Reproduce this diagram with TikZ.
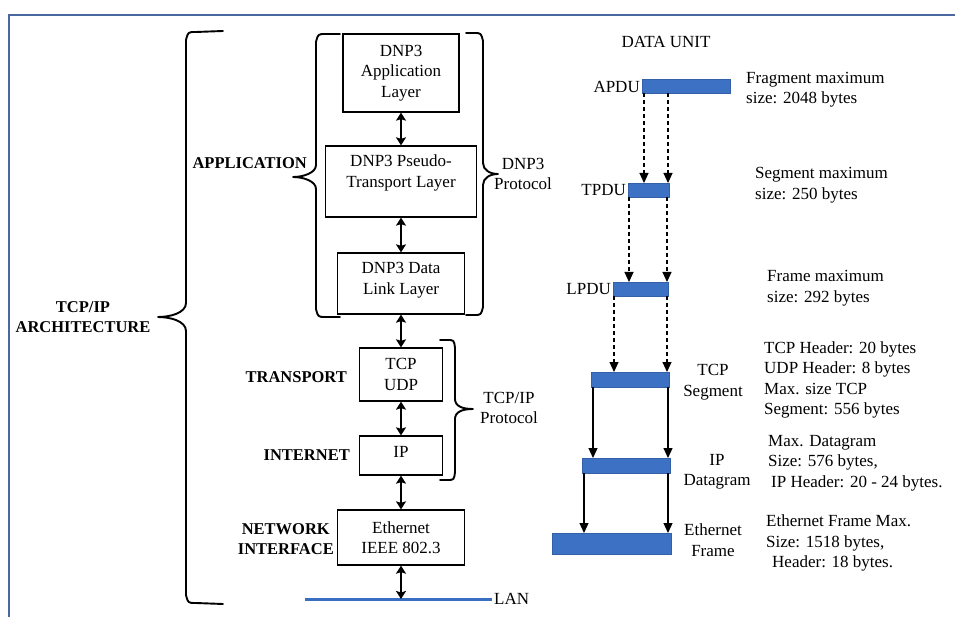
\documentclass[tikz,border=0pt]{standalone}
\usepackage{fontspec}
\IfFontExistsTF{LiberationSerif-Regular.ttf}
  {\setmainfont{LiberationSerif-Regular.ttf}[BoldFont=LiberationSerif-Bold.ttf,
     ItalicFont=LiberationSerif-Italic.ttf]}
  {\setmainfont{Liberation Serif}}
\usetikzlibrary{arrows.meta}
\definecolor{barblue}{RGB}{60,113,196}
\definecolor{framebl}{RGB}{74,104,160}
\definecolor{lanblue}{RGB}{58,110,194}

\begin{document}
\begin{tikzpicture}[x=1pt,y=-1pt,
  txt/.style={font=\fontsize{17}{20.5}\selectfont, inner sep=0pt, align=center},
  lbl/.style={font=\fontsize{16.5}{19.5}\selectfont\bfseries, inner sep=0pt, align=center},
  layer/.style={draw, line width=1.3pt, inner sep=0pt, align=center,
                font=\fontsize{17}{20.5}\selectfont},
  bar/.style={fill=barblue, draw=barblue!85!black, line width=0.5pt,
              inner sep=0pt, outer sep=0pt},
  dblarr/.style={line width=2.2pt,
                 {Stealth[length=8pt,width=10pt,inset=1.5pt]}-{Stealth[length=8pt,width=10pt,inset=1.5pt]}},
  dasharr/.style={line width=1.1pt, dash pattern=on 4pt off 3pt,
                  -{Triangle[length=10pt,width=9pt]}},
  solarr/.style={line width=1.2pt, -{Triangle[length=10pt,width=9pt]}},
  bracepath/.style={line width=1.9pt, line cap=round, line join=round}
]
\useasboundingbox (0,0) rectangle (955,617);
\fill[white] (0,0) rectangle (955,617);

% outer frame (top and left edges)
\draw[framebl, line width=2pt] (9,617) -- (9,15) -- (955,15);

% ---------- protocol stack ----------
\node[layer, minimum width=116pt, minimum height=78pt] (app) at (401,73) {DNP3\\Application\\Layer};
\node[layer, minimum width=151pt, minimum height=71pt] (pst) at (401,181.5) {};
\node[txt] (pstt) at (401,173) {DNP3 Pseudo-\\Transport Layer};
\node[layer, minimum width=127pt, minimum height=61pt] (dll) at (401,283.5) {};
\node[txt] (dllt) at (401,280) {DNP3 Data\\Link Layer};
\node[layer, minimum width=83pt, minimum height=53pt] (tcp) at (401,374.5) {TCP\\UDP};
\node[layer, minimum width=83pt, minimum height=39pt] (ip) at (401,455.5) {};
\node[txt] (ipt) at (401,452) {IP};
\node[layer, minimum width=127pt, minimum height=55pt] (eth) at (401,537.5) {Ethernet\\IEEE 802.3};

\coordinate (lanL) at (305,599);
\coordinate (lanR) at (492,599);
\draw[lanblue, line width=3pt] (lanL) -- (lanR);
\node[txt, anchor=west] (lan) at (494,599) {LAN};

\draw[dblarr] (app.south) -- (pst.north);
\draw[dblarr] (pst.south) -- (dll.north);
\draw[dblarr] (dll.south) -- (tcp.north);
\draw[dblarr] (tcp.south) -- (ip.north);
\draw[dblarr] (ip.south) -- (eth.north);
\draw[dblarr] (eth.south) -- (eth.south |- lanL);

% ---------- layer names ----------
\node[lbl] (arch) at (83,317) {TCP/IP\\ARCHITECTURE};
\node[lbl, anchor=east] (appl) at (307,163) {APPLICATION};
\node[lbl, anchor=east] (trl) at (347,377) {TRANSPORT};
\node[lbl, anchor=east] (inl) at (350,455) {INTERNET};
\node[lbl, anchor=east] (nil) at (334,539) {NETWORK\\INTERFACE};
\node[txt] (dnpl) at (523,174) {DNP3\\Protocol};
\node[txt] (tcpl) at (509,408) {TCP/IP\\Protocol};

% ---------- braces ----------
\draw[bracepath] (223,31) -- (196,32) .. controls (188,32) .. (186,40)
  -- (186,303) .. controls (186,313) and (170,317) .. (158,317)
  .. controls (170,317) and (186,321) .. (186,331)
  -- (186,595) .. controls (188,603) .. (196,603) -- (223,604);
\draw[bracepath] (340,34) -- (326,34) .. controls (318,34) .. (316,42)
  -- (316,165) .. controls (316,173) and (303,177) .. (293,177)
  .. controls (303,177) and (316,181) .. (316,189)
  -- (316,309) .. controls (318,317) .. (326,317) -- (340,317);
\draw[bracepath] (466,33) -- (474,33) .. controls (481,33) .. (483,41)
  -- (483,163) .. controls (483,170) and (490,174) .. (498,174)
  .. controls (490,174) and (483,178) .. (483,185)
  -- (483,307) .. controls (481,315) .. (474,315) -- (466,315);
\draw[bracepath] (440,340) -- (447,340) .. controls (454,340) .. (455,348)
  -- (455,399) .. controls (455,406) and (462,409) .. (473,409)
  .. controls (462,409) and (455,412) .. (455,419)
  -- (455,472) .. controls (454,480) .. (447,480) -- (440,480);

% ---------- data units ----------
\node[txt] (du) at (666,42) {DATA UNIT};

\node[bar, minimum width=88pt, minimum height=14pt] (apdu) at (686,86) {};
\node[bar, minimum width=41pt, minimum height=14pt] (tpdu) at (648.5,190) {};
\node[bar, minimum width=55pt, minimum height=14pt] (lpdu) at (640.5,289) {};
\node[bar, minimum width=78pt, minimum height=15pt] (tseg) at (630,379.5) {};
\node[bar, minimum width=88pt, minimum height=15pt] (ipdg) at (626,465.5) {};
\node[bar, minimum width=119pt, minimum height=21pt] (ethf) at (611.5,543.5) {};

\node[txt, anchor=east] (apdul) at (640,87) {APDU};
\node[txt, anchor=east] (tpdul) at (626,190) {TPDU};
\node[txt, anchor=east] (lpdul) at (611,289) {LPDU};
\node[txt] (tsegl) at (713,382) {TCP\\Segment};
\node[txt] (ipdgl) at (717,472) {IP\\Datagram};
\node[txt] (ethfl) at (713,540) {Ethernet\\Frame};

\node[txt, anchor=west, align=left] (fragi) at (746,89.5) {Fragment maximum\\size: 2048 bytes};
\node[txt, anchor=west, align=left] (segi) at (755,185) {Segment maximum\\size: 250 bytes};
\node[txt, anchor=west, align=left] (frmi) at (767,288) {Frame maximum\\size: 292 bytes};
\node[txt, anchor=west, align=left] (tcpi) at (764,380) {TCP Header: 20 bytes\\UDP Header: 8 bytes\\Max. size TCP\\Segment: 556 bytes};
\node[txt, anchor=west, align=left] (ipi) at (768,463) {Max. Datagram\\Size: 576 bytes,\\\hspace{3pt}IP Header: 20 - 24 bytes.};
\node[txt, anchor=west, align=left] (ethi) at (766,543) {Ethernet Frame Max.\\Size: 1518 bytes,\\\hspace{6pt}Header: 18 bytes.};

% fragmentation arrows
\draw[dasharr] ([xshift=2pt]apdu.south west) -- ([xshift=2pt]apdu.south west |- tpdu.north);
\draw[dasharr] ([xshift=-1pt]tpdu.north east |- apdu.south) -- ([xshift=-1pt]tpdu.north east);
\draw[dasharr] ([xshift=1pt]tpdu.south west) -- ([xshift=1pt]tpdu.south west |- lpdu.north);
\draw[dasharr] ([xshift=-1pt]lpdu.north east |- tpdu.south) -- ([xshift=-1pt]lpdu.north east);
\draw[dasharr] ([xshift=1pt]lpdu.south west) -- ([xshift=1pt]lpdu.south west |- tseg.north);
\draw[dasharr] ([xshift=-1pt]lpdu.south east) -- ([xshift=-1pt]lpdu.south east |- tseg.north);

% encapsulation arrows
\draw[solarr] ([xshift=2pt]tseg.south west) -- ([xshift=2pt]tseg.south west |- ipdg.north);
\draw[solarr] ([xshift=-1pt]tseg.south east) -- ([xshift=-1pt]tseg.south east |- ipdg.north);
\draw[solarr] ([xshift=2pt]ipdg.south west) -- ([xshift=2pt]ipdg.south west |- ethf.north);
\draw[solarr] ([xshift=-2pt]ipdg.south east) -- ([xshift=-2pt]ipdg.south east |- ethf.north);
\end{tikzpicture}
\end{document}
